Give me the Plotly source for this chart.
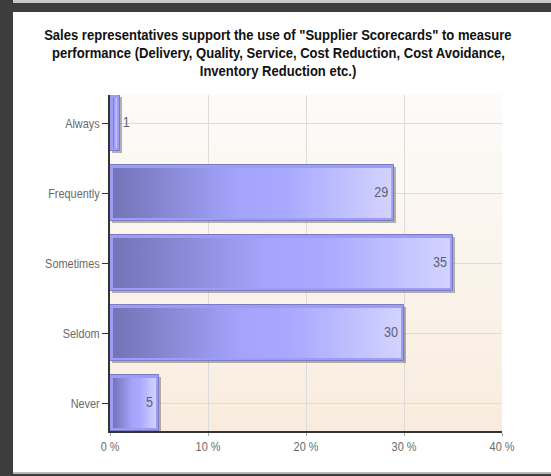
import plotly.graph_objects as go

# Survey answers and their share of responses (%)
categories = ["Always", "Frequently", "Sometimes", "Seldom", "Never"]
shares = [1, 29, 35, 30, 5]
x_ticks = [0, 10, 20, 30, 40]

title_lines = [
    'Sales representatives support the use of "Supplier Scorecards" to measure',
    "performance (Delivery, Quality, Service, Cost Reduction, Cost Avoidance,",
    "Inventory Reduction etc.)",
]

W, H = 551, 476
L, R, T, B = 110, 49, 95, 45
PW, PH = W - L - R, H - T - B
X_MAX = 40
Y_LO, Y_HI = -0.4, len(categories) - 0.6
BAR_W = 0.8

FONT = "Liberation Sans, Arial, sans-serif"

px_x = X_MAX / PW              # data units per pixel, horizontally
px_y = (Y_HI - Y_LO) / PH      # data units per pixel, vertically

pos = list(range(len(categories)))

fig = go.Figure()

# drop shadow behind each bar
fig.add_trace(go.Bar(
    y=[p + 2 * px_y for p in pos], x=shares, base=2 * px_x, orientation="h",
    width=BAR_W, marker=dict(color="rgba(70,70,70,0.4)", line=dict(width=0)),
    hoverinfo="skip", showlegend=False,
))

# bar body with its border ring
fig.add_trace(go.Bar(
    y=pos, x=shares, orientation="h", width=BAR_W,
    marker=dict(color="#9d9df6", line=dict(color="#7c7cc4", width=1)),
    showlegend=False, name="",
))

# horizontal shading inside each bar
inset_x, inset_y = 3 * px_x, 3 * px_y
for p, v in zip(pos, shares):
    x0, x1 = inset_x, max(v - inset_x, inset_x * 1.5)
    y0, y1 = p - BAR_W / 2 + inset_y, p + BAR_W / 2 - inset_y
    fig.add_trace(go.Scatter(
        x=[x0, x1, x1, x0, x0], y=[y0, y0, y1, y1, y0],
        mode="lines", line=dict(width=0), fill="toself",
        fillgradient=dict(
            type="horizontal",
            colorscale=[[0, "#7373b6"], [0.45, "#a4a4fd"],
                        [0.62, "#a8a8ff"], [1, "#d3d3ff"]],
        ),
        hoverinfo="skip", showlegend=False,
    ))

# value labels: inside the bar end, or just past it for tiny bars
lab_x, lab_pos = [], []
for v in shares:
    if v < 3:
        lab_x.append(v + 3 * px_x)
        lab_pos.append("middle right")
    else:
        lab_x.append(v - 6 * px_x)
        lab_pos.append("middle left")
fig.add_trace(go.Scatter(
    x=lab_x, y=pos, mode="text", text=[str(v) for v in shares],
    textposition=lab_pos,
    textfont=dict(family=FONT, size=15, color="#5c6370"),
    hoverinfo="skip", showlegend=False,
))

# plot-area background: soft vertical fade from near white to beige
def mix(c0, c1, t):
    return "rgb(%d,%d,%d)" % tuple(round(a + (b - a) * t) for a, b in zip(c0, c1))

top_c, bot_c = (252, 251, 249), (249, 236, 222)
bands = 40
shapes = []
for i in range(bands):
    shapes.append(dict(
        type="rect", xref="paper", yref="paper", layer="below",
        x0=0, x1=1, y0=1 - (i + 1) / bands, y1=1 - i / bands + 0.001,
        fillcolor=mix(top_c, bot_c, i / (bands - 1)), line=dict(width=0),
    ))

# page frame: dark strips on the left, top and bottom edges
def fx(px):
    return (px - L) / PW

def fy(py):
    return (H - B - py) / PH

frame = [
    (0, 0, W, 3, "#c8c8c8"),
    (0, 3, W, 12, "#3d3d3d"),
    (0, 0, 13, H, "#3d3d3d"),
    (13, 472, W, 474, "#b8b8b8"),
    (0, 474, W, H, "#3d3d3d"),
]
for x0, y0, x1, y1, c in frame:
    shapes.append(dict(
        type="rect", xref="paper", yref="paper", layer="above",
        x0=fx(x0), x1=fx(x1), y0=fy(y1), y1=fy(y0),
        fillcolor=c, line=dict(width=0),
    ))

# chart title, one annotation per line
title_centres = [35, 52, 70]
annotations = [
    dict(text=line, xref="paper", yref="paper", x=fx(278), y=fy(cy),
         xanchor="center", yanchor="middle", showarrow=False,
         font=dict(family=FONT, size=15, color="#111111", weight="bold"))
    for line, cy in zip(title_lines, title_centres)
]

fig.update_layout(
    width=W, height=H,
    margin=dict(l=L, r=R, t=T, b=B, pad=0),
    paper_bgcolor="white", plot_bgcolor="rgba(0,0,0,0)",
    barmode="overlay", bargap=0,
    showlegend=False,
    shapes=shapes,
    annotations=annotations,
    xaxis=dict(
        range=[0, X_MAX], tickvals=x_ticks, ticktext=[f"{t} %" for t in x_ticks],
        showgrid=True, gridcolor="#dcdcdc", gridwidth=1,
        zeroline=False, showline=True, linecolor="#333333", linewidth=1.5,
        ticks="outside", ticklen=3, tickcolor="#aaaaaa",
        tickfont=dict(family=FONT, size=13, color="#6a6a6a"),
        fixedrange=True,
    ),
    yaxis=dict(
        range=[Y_HI, Y_LO], tickvals=pos, ticktext=categories,
        showgrid=True, gridcolor="#dcdcdc", gridwidth=1,
        zeroline=False, showline=True, linecolor="#333333", linewidth=1.5,
        ticks="outside", ticklen=6, tickcolor="#333333",
        tickfont=dict(family=FONT, size=13, color="#6a6a6a"),
        fixedrange=True,
    ),
)

# squeeze the lettering horizontally so it reads like a narrow face,
# keeping each label pinned at its own anchor point
condense_js = """
function condense(sel, s) {
  document.querySelectorAll(sel).forEach(function (t) {
    var b = t.getBBox();
    var a = t.getAttribute('text-anchor') || getComputedStyle(t).textAnchor;
    var ax = a === 'end' ? b.x + b.width : (a === 'middle' ? b.x + b.width / 2 : b.x);
    var prev = t.getAttribute('transform') || '';
    t.setAttribute('transform', prev + ' translate(' + ax + ',0) scale(' + s + ',1) translate(' + (-ax) + ',0)');
  });
}
condense('.annotation-text', 0.87);
condense('.xtick text, .ytick text', 0.84);
condense('.textpoint text', 0.84);
"""

fig.write_html("out.html", config={"displayModeBar": False}, post_script=condense_js)
